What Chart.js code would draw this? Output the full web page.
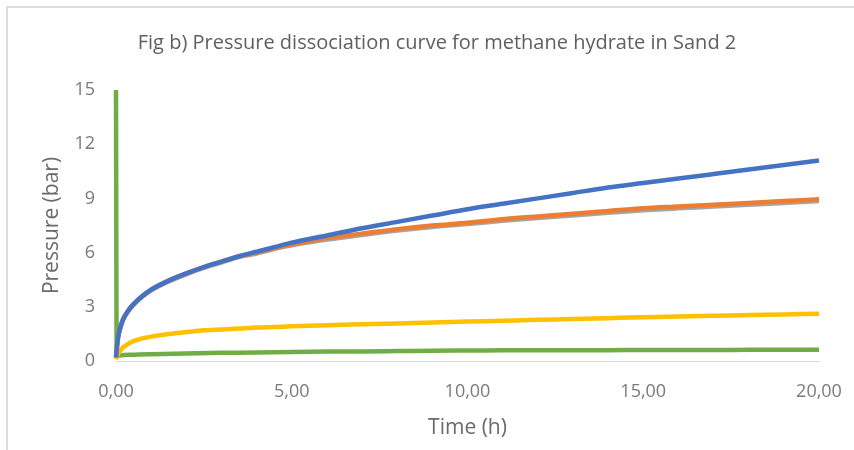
<!DOCTYPE html>
<html>
<head>
<meta charset="utf-8">
<script src="https://cdn.jsdelivr.net/npm/chart.js@4"></script>
<style>
  html, body { margin: 0; padding: 0; background: #fff; }
  #wrap { position: relative; width: 854px; height: 450px; overflow: hidden; }
  #frame { position: absolute; left: 6px; top: 6px; width: 900px; height: 500px; border-top: 2px solid #dcdcdc; border-left: 2px solid #dcdcdc; }
  canvas { position: absolute; left: 0; top: 0; }
</style>
</head>
<body>
<div id="wrap">
  <div id="frame"></div>
  <canvas id="c" width="854" height="450"></canvas>
</div>
<script>
const chartTitle = 'Fig b) Pressure dissociation curve for methane hydrate in Sand 2';
const xTitle = 'Time (h)';
const yTitle = 'Pressure (bar)';

const times = [0, 0.05, 0.1, 0.2, 0.35, 0.5, 0.75, 1, 1.5, 2, 2.5, 3, 3.5, 4, 4.5, 5, 6, 7, 8, 9, 10, 11, 12, 13, 14, 15, 16, 17, 18, 19, 20];

const blue   = [0.2, 1.2, 1.7, 2.3, 2.8, 3.15, 3.6, 3.95, 4.45, 4.85, 5.2, 5.5, 5.8, 6.05, 6.3, 6.55, 6.95, 7.35, 7.7, 8.05, 8.4, 8.7, 9.0, 9.3, 9.6, 9.85, 10.1, 10.35, 10.6, 10.85, 11.1];
const orange = [0.2, 1.2, 1.7, 2.3, 2.8, 3.15, 3.6, 3.95, 4.45, 4.85, 5.2, 5.5, 5.8, 6.0, 6.25, 6.45, 6.8, 7.05, 7.3, 7.5, 7.65, 7.85, 8.0, 8.15, 8.3, 8.45, 8.55, 8.65, 8.75, 8.85, 8.95];
const grey   = [0.2, 1.15, 1.65, 2.25, 2.75, 3.1, 3.55, 3.9, 4.4, 4.8, 5.15, 5.45, 5.75, 5.95, 6.2, 6.4, 6.72, 6.98, 7.22, 7.42, 7.58, 7.76, 7.92, 8.06, 8.2, 8.34, 8.45, 8.55, 8.65, 8.75, 8.85];
const yellow = [0.1, 0.35, 0.5, 0.75, 0.95, 1.1, 1.25, 1.35, 1.5, 1.6, 1.7, 1.75, 1.8, 1.85, 1.88, 1.92, 1.98, 2.03, 2.08, 2.13, 2.18, 2.23, 2.28, 2.32, 2.37, 2.42, 2.46, 2.5, 2.54, 2.58, 2.62];

const greenTimes = [0, 0.02, 0.1, 0.5, 1, 2, 3, 4, 5, 6, 7, 8, 9, 10, 11, 12, 13, 14, 15, 16, 17, 18, 19, 20];
const green      = [15, 0.25, 0.3, 0.35, 0.38, 0.42, 0.45, 0.47, 0.5, 0.52, 0.53, 0.55, 0.57, 0.58, 0.59, 0.6, 0.6, 0.6, 0.61, 0.61, 0.61, 0.62, 0.62, 0.62];

const xTicks = [0, 5, 10, 15, 20];
const yTicks = [0, 3, 6, 9, 12, 15];

function pts(xs, ys) { return xs.map((x, i) => ({x: x, y: ys[i]})); }

const seriesDefs = [
  {data: pts(times, blue),   color: '#4472C4'},
  {data: pts(times, orange), color: '#ED7D31'},
  {data: pts(times, grey),   color: '#A5A5A5'},
  {data: pts(times, yellow), color: '#FFC000'},
  {data: pts(greenTimes, green), color: '#70AD47'}
];

const FONT = '"Open Sans", "DejaVu Sans", sans-serif';

const titleShift = {
  id: 'titleShift',
  afterLayout(chart) {
    const tb = chart.titleBlock;
    if (tb) { tb.left = 46; tb.right = 828; }
  }
};

new Chart(document.getElementById('c'), {
  type: 'line',
  data: {
    datasets: seriesDefs.map(s => ({
      data: s.data,
      borderColor: s.color,
      backgroundColor: s.color,
      borderWidth: 4.5,
      pointRadius: 0,
      fill: false,
      clip: 5,
      cubicInterpolationMode: 'monotone'
    }))
  },
  plugins: [titleShift],
  options: {
    responsive: false,
    animation: false,
    devicePixelRatio: 1,
    layout: { padding: { left: 0, right: 35, top: 0, bottom: 0 } },
    plugins: {
      legend: { display: false },
      tooltip: { enabled: false },
      title: {
        display: true,
        text: chartTitle,
        color: '#5f5f5f',
        font: { family: FONT, size: 20, weight: 'normal' },
        padding: { top: 31, bottom: 35 }
      }
    },
    scales: {
      x: {
        type: 'linear',
        min: 0, max: 20,
        afterBuildTicks: s => { s.ticks = xTicks.map(v => ({value: v})); },
        afterFit: s => { s.height = 89; },
        grid: { display: false, drawTicks: true, tickLength: 18 },
        border: { display: true, color: '#d9d9d9', width: 1 },
        ticks: {
          padding: 2,
          color: '#7a7a7a',
          font: { family: FONT, size: 18 },
          maxRotation: 0,
          callback: v => v.toFixed(2).replace('.', ',')
        },
        title: {
          display: true, text: xTitle, color: '#6a6a6a',
          font: { family: FONT, size: 21 },
          padding: { top: 10, bottom: 9.5 }
        }
      },
      y: {
        min: 0, max: 15,
        afterBuildTicks: s => { s.ticks = yTicks.map(v => ({value: v})); },
        afterFit: s => { s.width = 116; },
        grid: { display: false, drawTicks: false },
        border: { display: false },
        ticks: {
          padding: 21,
          color: '#7a7a7a',
          font: { family: FONT, size: 18 }
        },
        title: {
          display: true, text: yTitle, color: '#6a6a6a',
          font: { family: FONT, size: 21 },
          padding: { top: 39.4, bottom: 0 }
        }
      }
    }
  }
});
</script>
</body>
</html>
